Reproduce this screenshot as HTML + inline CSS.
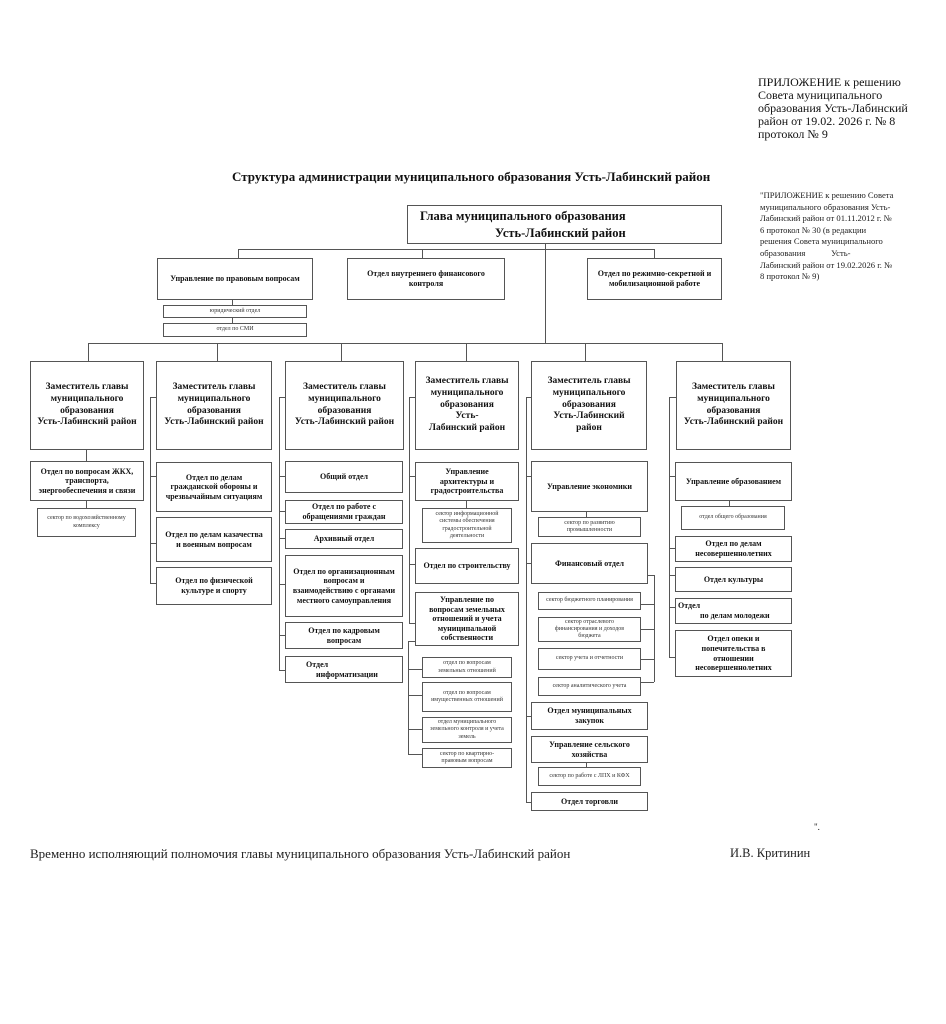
<!DOCTYPE html>
<html><head><meta charset="utf-8"><style>
*{margin:0;padding:0;box-sizing:border-box}
body{width:946px;height:1024px;background:#fff;position:relative;font-family:"Liberation Serif",serif;color:#111;overflow:hidden}
.b{position:absolute;border:1px solid #555;display:flex;align-items:center;justify-content:center;text-align:center;font-weight:bold;font-size:8px;line-height:1.2;background:#fff}
.s{font-weight:normal;font-size:6px;color:#333}
.d{font-size:9.5px;line-height:1.25}
.h{position:absolute;height:1px;background:#555}
.v{position:absolute;width:1px;background:#555}
.t{position:absolute;white-space:nowrap}
</style></head><body>
<div class="t" style="left:758px;top:76px;font-size:12px;line-height:13px">ПРИЛОЖЕНИЕ к решению<br>Совета муниципального<br>образования Усть-Лабинский<br>район от 19.02. 2026 г. № 8<br>протокол № 9</div>
<div class="t" style="left:232px;top:169px;font-size:13px;font-weight:bold">Структура администрации муниципального образования Усть-Лабинский район</div>
<div class="t" style="left:760px;top:190px;font-size:8.6px;line-height:11.6px;color:#222">"ПРИЛОЖЕНИЕ к решению Совета<br>муниципального образования Усть-<br>Лабинский район от 01.11.2012 г. №<br>6 протокол № 30 (в редакции<br>решения Совета муниципального<br>образования&nbsp;&nbsp;&nbsp;&nbsp;&nbsp;&nbsp;&nbsp;&nbsp;&nbsp;&nbsp;&nbsp;&nbsp;Усть-<br>Лабинский район от 19.02.2026 г. №<br>8 протокол № 9)</div>

<!-- top -->
<div class="b" style="left:407px;top:205px;width:315px;height:39px;font-size:12.5px;justify-content:flex-start;text-align:left;padding-left:12px;line-height:1.3">Глава муниципального образования<br>&nbsp;&nbsp;&nbsp;&nbsp;&nbsp;&nbsp;&nbsp;&nbsp;&nbsp;&nbsp;&nbsp;&nbsp;&nbsp;&nbsp;&nbsp;&nbsp;&nbsp;&nbsp;&nbsp;&nbsp;&nbsp;&nbsp;&nbsp;&nbsp;Усть-Лабинский район</div>
<div class="v" style="left:545px;top:244px;height:100px"></div>
<div class="h" style="left:238px;top:249px;width:417px"></div>
<div class="v" style="left:238px;top:249px;height:9px"></div>
<div class="v" style="left:422px;top:249px;height:9px"></div>
<div class="v" style="left:654px;top:249px;height:9px"></div>
<div class="b" style="left:157px;top:258px;width:156px;height:42px">Управление по правовым вопросам</div>
<div class="b" style="left:347px;top:258px;width:158px;height:42px">Отдел внутреннего финансового<br>контроля</div>
<div class="b" style="left:587px;top:258px;width:135px;height:42px">Отдел по режимно-секретной и<br>мобилизационной работе</div>
<div class="v" style="left:232px;top:300px;height:24px"></div>
<div class="b s" style="left:163px;top:305px;width:144px;height:13px">юридический отдел</div>
<div class="b s" style="left:163px;top:323px;width:144px;height:14px">отдел по СМИ</div>

<div class="h" style="left:88px;top:343px;width:634px"></div>
<div class="v" style="left:88px;top:343px;height:18px"></div>
<div class="v" style="left:217px;top:343px;height:18px"></div>
<div class="v" style="left:341px;top:343px;height:18px"></div>
<div class="v" style="left:466px;top:343px;height:18px"></div>
<div class="v" style="left:585px;top:343px;height:18px"></div>
<div class="v" style="left:722px;top:343px;height:18px"></div>

<div class="b d" style="left:30px;top:361px;width:114px;height:89px">Заместитель главы<br>муниципального<br>образования<br>Усть-Лабинский район</div>
<div class="b d" style="left:156px;top:361px;width:116px;height:89px">Заместитель главы<br>муниципального<br>образования<br>Усть-Лабинский район</div>
<div class="b d" style="left:285px;top:361px;width:119px;height:89px">Заместитель главы<br>муниципального<br>образования<br>Усть-Лабинский район</div>
<div class="b d" style="left:415px;top:361px;width:104px;height:89px">Заместитель главы<br>муниципального<br>образования<br>Усть-<br>Лабинский район</div>
<div class="b d" style="left:531px;top:361px;width:116px;height:89px">Заместитель главы<br>муниципального<br>образования<br>Усть-Лабинский<br>район</div>
<div class="b d" style="left:676px;top:361px;width:115px;height:89px">Заместитель главы<br>муниципального<br>образования<br>Усть-Лабинский район</div>

<!-- col1 -->
<div class="v" style="left:86px;top:450px;height:58px"></div>
<div class="b" style="left:30px;top:461px;width:114px;height:40px">Отдел по вопросам ЖКХ,<br>транспорта,<br>энергообеспечения и связи</div>
<div class="b s" style="left:37px;top:508px;width:99px;height:29px">сектор по водохозяйственному<br>комплексу</div>

<!-- col2 -->
<div class="v" style="left:150px;top:397px;height:187px"></div>
<div class="h" style="left:150px;top:397px;width:6px"></div>
<div class="h" style="left:150px;top:476px;width:6px"></div>
<div class="h" style="left:150px;top:543px;width:6px"></div>
<div class="h" style="left:150px;top:583px;width:6px"></div>
<div class="b" style="left:156px;top:462px;width:116px;height:50px">Отдел по делам<br>гражданской обороны и<br>чрезвычайным ситуациям</div>
<div class="b" style="left:156px;top:517px;width:116px;height:45px">Отдел по делам казачества<br>и военным вопросам</div>
<div class="b" style="left:156px;top:567px;width:116px;height:38px">Отдел по физической<br>культуре и спорту</div>

<!-- col3 -->
<div class="v" style="left:279px;top:397px;height:274px"></div>
<div class="h" style="left:279px;top:397px;width:6px"></div>
<div class="h" style="left:279px;top:476px;width:6px"></div>
<div class="h" style="left:279px;top:511px;width:6px"></div>
<div class="h" style="left:279px;top:538px;width:6px"></div>
<div class="h" style="left:279px;top:584px;width:6px"></div>
<div class="h" style="left:279px;top:635px;width:6px"></div>
<div class="h" style="left:279px;top:670px;width:6px"></div>
<div class="b" style="left:285px;top:461px;width:118px;height:32px">Общий отдел</div>
<div class="b" style="left:285px;top:500px;width:118px;height:24px">Отдел по работе с<br>обращениями граждан</div>
<div class="b" style="left:285px;top:529px;width:118px;height:20px">Архивный отдел</div>
<div class="b" style="left:285px;top:555px;width:118px;height:62px">Отдел по организационным<br>вопросам и<br>взаимодействию с органами<br>местного самоуправления</div>
<div class="b" style="left:285px;top:622px;width:118px;height:27px">Отдел по кадровым<br>вопросам</div>
<div class="b" style="left:285px;top:656px;width:118px;height:27px;justify-content:flex-start;text-align:left;padding-left:20px">Отдел<br>&nbsp;&nbsp;&nbsp;&nbsp;&nbsp;информатизации</div>

<!-- col4 -->
<div class="v" style="left:409px;top:397px;height:226px"></div>
<div class="h" style="left:409px;top:397px;width:6px"></div>
<div class="h" style="left:409px;top:476px;width:6px"></div>
<div class="h" style="left:409px;top:564px;width:6px"></div>
<div class="h" style="left:409px;top:623px;width:6px"></div>
<div class="b" style="left:415px;top:462px;width:104px;height:39px">Управление<br>архитектуры и<br>градостроительства</div>
<div class="v" style="left:466px;top:501px;height:7px"></div>
<div class="b s" style="left:422px;top:508px;width:90px;height:35px">сектор информационной<br>системы обеспечения<br>градостроительной<br>деятельности</div>
<div class="b" style="left:415px;top:548px;width:104px;height:36px">Отдел по строительству</div>
<div class="b" style="left:415px;top:592px;width:104px;height:54px">Управление по<br>вопросам земельных<br>отношений и учета<br>муниципальной<br>собственности</div>
<div class="v" style="left:408px;top:641px;height:114px"></div>
<div class="h" style="left:408px;top:641px;width:7px"></div>
<div class="h" style="left:408px;top:669px;width:14px"></div>
<div class="h" style="left:408px;top:695px;width:14px"></div>
<div class="h" style="left:408px;top:729px;width:14px"></div>
<div class="h" style="left:408px;top:754px;width:14px"></div>
<div class="b s" style="left:422px;top:657px;width:90px;height:21px">отдел по вопросам<br>земельных отношений</div>
<div class="b s" style="left:422px;top:682px;width:90px;height:30px">отдел по вопросам<br>имущественных отношений</div>
<div class="b s" style="left:422px;top:717px;width:90px;height:26px">отдел муниципального<br>земельного контроля и учета<br>земель</div>
<div class="b s" style="left:422px;top:748px;width:90px;height:20px">сектор по квартирно-<br>правовым вопросам</div>

<!-- col5 -->
<div class="v" style="left:526px;top:397px;height:406px"></div>
<div class="h" style="left:526px;top:397px;width:5px"></div>
<div class="h" style="left:526px;top:476px;width:5px"></div>
<div class="h" style="left:526px;top:563px;width:5px"></div>
<div class="h" style="left:526px;top:716px;width:5px"></div>
<div class="h" style="left:526px;top:802px;width:5px"></div>
<div class="b" style="left:531px;top:461px;width:117px;height:51px">Управление экономики</div>
<div class="v" style="left:586px;top:512px;height:6px"></div>
<div class="b s" style="left:538px;top:517px;width:103px;height:20px">сектор по развитию<br>промышленности</div>
<div class="b" style="left:531px;top:543px;width:117px;height:41px">Финансовый отдел</div>
<div class="v" style="left:654px;top:575px;height:107px"></div>
<div class="h" style="left:648px;top:575px;width:6px"></div>
<div class="h" style="left:640px;top:604px;width:14px"></div>
<div class="h" style="left:640px;top:629px;width:14px"></div>
<div class="h" style="left:640px;top:659px;width:14px"></div>
<div class="h" style="left:640px;top:682px;width:14px"></div>
<div class="b s" style="left:538px;top:592px;width:103px;height:18px">сектор бюджетного планирования</div>
<div class="b s" style="left:538px;top:617px;width:103px;height:25px">сектор отраслевого<br>финансирования и доходов<br>бюджета</div>
<div class="b s" style="left:538px;top:648px;width:103px;height:22px">сектор учета и отчетности</div>
<div class="b s" style="left:538px;top:677px;width:103px;height:19px">сектор аналитического учета</div>
<div class="b" style="left:531px;top:702px;width:117px;height:28px">Отдел муниципальных<br>закупок</div>
<div class="b" style="left:531px;top:736px;width:117px;height:27px">Управление сельского<br>хозяйства</div>
<div class="v" style="left:586px;top:763px;height:5px"></div>
<div class="b s" style="left:538px;top:767px;width:103px;height:19px">сектор по работе с ЛПХ и КФХ</div>
<div class="b" style="left:531px;top:792px;width:117px;height:19px">Отдел торговли</div>

<!-- col6 -->
<div class="v" style="left:669px;top:397px;height:261px"></div>
<div class="h" style="left:669px;top:397px;width:7px"></div>
<div class="h" style="left:669px;top:476px;width:7px"></div>
<div class="h" style="left:669px;top:548px;width:7px"></div>
<div class="h" style="left:669px;top:575px;width:7px"></div>
<div class="h" style="left:669px;top:607px;width:7px"></div>
<div class="h" style="left:669px;top:657px;width:7px"></div>
<div class="b" style="left:675px;top:462px;width:117px;height:39px">Управление образованием</div>
<div class="v" style="left:729px;top:501px;height:6px"></div>
<div class="b s" style="left:681px;top:506px;width:104px;height:24px">отдел общего образования</div>
<div class="b" style="left:675px;top:536px;width:117px;height:26px">Отдел по делам<br>несовершеннолетних</div>
<div class="b" style="left:675px;top:567px;width:117px;height:25px">Отдел культуры</div>
<div class="b" style="left:675px;top:598px;width:117px;height:26px;justify-content:flex-start;text-align:left;padding-left:2px">Отдел<br>&nbsp;&nbsp;&nbsp;&nbsp;&nbsp;&nbsp;&nbsp;&nbsp;&nbsp;&nbsp;&nbsp;по делам молодежи</div>
<div class="b" style="left:675px;top:630px;width:117px;height:47px">Отдел опеки и<br>попечительства в<br>отношении<br>несовершеннолетних</div>

<div class="t" style="left:814px;top:822px;font-size:9px">".</div>
<div class="t" style="left:30px;top:846px;font-size:13px;color:#222">Временно исполняющий полномочия главы муниципального образования Усть-Лабинский район</div>
<div class="t" style="left:730px;top:846px;font-size:12.5px;color:#222">И.В. Критинин</div>
</body></html>
